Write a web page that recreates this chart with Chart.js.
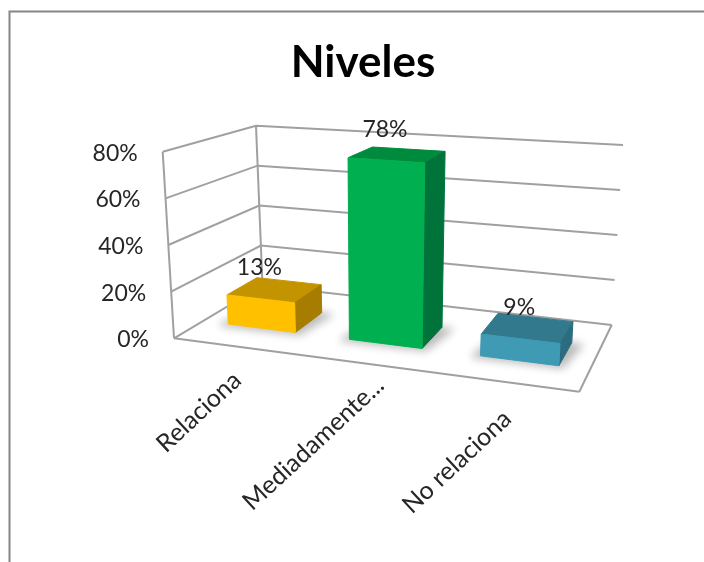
<!DOCTYPE html>
<html lang="es">
<head>
  <meta charset="UTF-8">
  <title>Niveles</title>
  <script src="https://cdn.jsdelivr.net/npm/chart.js"></script>
  <style>
    html, body { margin: 0; padding: 0; background: #fff; }
    canvas { display: block; }
  </style>
</head>
<body>
  <canvas id="nivelesChart" width="704" height="562"></canvas>

  <script>
    const categories = ['Relaciona', 'Mediadamente...', 'No relaciona'];
    const percentages = [13, 78, 9];
    const yTicks = [0, 20, 40, 60, 80];
    const frontColors = ['#FFC000', '#00B050', '#3F9AB3'];
    const topColors = ['#C49400', '#008A3E', '#32798D'];
    const sideColors = ['#A67D00', '#00733A', '#2C6C80'];

    // corners of the 3D box on screen: [u, v, depth], u and v run 0..1 inside the plot
    const corners = {
      '000': [174, 338.3], '100': [579.3, 391.7], '010': [162.7, 151.7], '110': [592, 181.6],
      '001': [262.5, 285.5], '101': [611.7, 325], '011': [256, 125.7], '111': [623, 145]
    };
    const barFront = 0.33;
    const barBack = 0.68;
    // the truncated middle label sits closer to the floor edge than the others
    const xLabelShift = [[-8, 19], [5, 7], [-8, 22]];

    function mix(a, b, t) { return a + (b - a) * t; }

    function project(u, v, d) {
      // the axis is foreshortened a bit towards the left
      const s = u * (1 + 0.116 * (u - 1));
      const p = [0, 1].map(i => {
        const c = k => corners[k][i];
        const front = mix(mix(c('000'), c('100'), s), mix(c('010'), c('110'), s), v);
        const back = mix(mix(c('001'), c('101'), s), mix(c('011'), c('111'), s), v);
        return mix(front, back, d);
      });
      return { x: p[0], y: p[1] };
    }

    function valueDecimal(ys, value) {
      return (ys.bottom - ys.getPixelForValue(value)) / ys.height;
    }

    function tracePath(ctx, pts) {
      ctx.beginPath();
      pts.forEach((p, i) => i ? ctx.lineTo(p.x, p.y) : ctx.moveTo(p.x, p.y));
      ctx.closePath();
    }

    function quad(ctx, pts, fill) {
      tracePath(ctx, pts);
      ctx.fillStyle = fill;
      ctx.fill();
      ctx.strokeStyle = fill;
      ctx.lineWidth = 1;
      ctx.lineJoin = 'round';
      ctx.stroke();
    }

    function line(ctx, a, b) {
      ctx.beginPath();
      ctx.moveTo(a.x, a.y);
      ctx.lineTo(b.x, b.y);
      ctx.stroke();
    }

    const box3d = {
      id: 'box3d',
      afterUpdate(chart) {
        const { x: xs, y: ys } = chart.scales;
        if (ys._patched) return;
        ys._patched = true;
        // tick labels follow the slanted edges of the box
        ys._computeLabelArea = () => undefined;
        const oy = ys._computeLabelItems;
        ys._computeLabelItems = function (area) {
          const items = oy.call(this, area);
          items.forEach((it, i) => {
            const p = project(0, valueDecimal(this, this.ticks[i].value), 0);
            it.options.translation = [p.x - 25, p.y + 1.5];
          });
          return items;
        };
        xs._computeLabelArea = () => undefined;
        const ox = xs._computeLabelItems;
        xs._computeLabelItems = function (area) {
          const items = ox.call(this, area);
          items.forEach((it, i) => {
            const p = project((this.getPixelForTick(i) - this.left) / this.width, 0, 0);
            it.options.translation = [p.x + xLabelShift[i][0], p.y + xLabelShift[i][1]];
          });
          return items;
        };
      },
      beforeDraw(chart) {
        const ctx = chart.ctx;
        ctx.save();
        ctx.strokeStyle = '#868686';
        ctx.lineWidth = 2;
        ctx.strokeRect(9.5, 11.5, 800, 700);
        ctx.restore();
      },
      beforeDatasetsDraw(chart) {
        const ctx = chart.ctx;
        const ys = chart.scales.y;
        ctx.save();
        ctx.strokeStyle = '#a0a0a0';
        ctx.lineWidth = 2;
        yTicks.forEach(t => {
          const v = valueDecimal(ys, t);
          ctx.beginPath();
          [project(0, v, 0), project(0, v, 1), project(1, v, 1)].forEach((p, i) =>
            i ? ctx.lineTo(p.x, p.y) : ctx.moveTo(p.x, p.y));
          ctx.stroke();
        });
        line(ctx, project(0, 0, 0), project(0, 1, 0));
        line(ctx, project(0, 0, 1), project(0, 1, 1));
        line(ctx, project(0, 0, 0), project(1, 0, 0));
        line(ctx, project(1, 0, 0), project(1, 0, 1));
        ctx.restore();
      },
      beforeDatasetDraw(chart, args) {
        const ctx = chart.ctx;
        const meta = args.meta;
        const { x: xs, y: ys } = chart.scales;
        meta.data.forEach((bar, i) => {
          const half = bar.width / 2;
          const u0 = (bar.x - half - xs.left) / xs.width;
          const u1 = (bar.x + half - xs.left) / xs.width;
          const v = (ys.bottom - bar.y) / ys.height;
          const f0 = project(u0, 0, barFront), f1 = project(u1, 0, barFront);
          const t0 = project(u0, v, barFront), t1 = project(u1, v, barFront);
          const b0 = project(u0, 0, barBack), b1 = project(u1, 0, barBack);
          const s0 = project(u0, v, barBack), s1 = project(u1, v, barBack);

          // soft shadow on the floor
          ctx.save();
          ctx.filter = 'blur(4px)';
          quad(ctx, [
            { x: f0.x - 9, y: f0.y + 1 }, { x: f1.x + 4, y: f1.y + 2 },
            { x: b1.x + 11, y: b1.y + 2 }, { x: b0.x, y: b0.y }
          ], 'rgba(90,90,90,0.42)');
          ctx.restore();

          quad(ctx, [t0, t1, s1, s0], topColors[i]);
          quad(ctx, [t1, f1, b1, s1], sideColors[i]);

          // front face is the library's own bar, mapped onto the front plane
          ctx.save();
          quad(ctx, [t0, t1, f1, f0], frontColors[i]);
          tracePath(ctx, [t0, t1, f1, f0]);
          ctx.clip();
          const w = bar.width, h = bar.base - bar.y;
          const a = (f1.x - f0.x) / w, b = (f1.y - f0.y) / w;
          const c = (f0.x - t0.x) / h, d = (f0.y - t0.y) / h;
          ctx.transform(a, b, c, d,
            t0.x - a * (bar.x - half) - c * bar.y,
            t0.y - b * (bar.x - half) - d * bar.y);
          bar.draw(ctx);
          ctx.restore();
        });
        return false;
      },
      afterDatasetsDraw(chart) {
        const ctx = chart.ctx;
        const { x: xs, y: ys } = chart.scales;
        const meta = chart.getDatasetMeta(0);
        ctx.save();
        ctx.font = '23px Lato';
        ctx.fillStyle = '#262626';
        ctx.textAlign = 'center';
        ctx.textBaseline = 'middle';
        meta.data.forEach((bar, i) => {
          const p = project((bar.x - xs.left) / xs.width, (ys.bottom - bar.y) / ys.height, barFront);
          ctx.fillText(percentages[i] + '%', p.x - 1, p.y - 31);
        });
        ctx.restore();
      }
    };

    new Chart(document.getElementById('nivelesChart'), {
      type: 'bar',
      data: {
        labels: categories,
        datasets: [{
          data: percentages,
          backgroundColor: frontColors,
          borderWidth: 0,
          barPercentage: 0.564,
          categoryPercentage: 1
        }]
      },
      options: {
        responsive: false,
        animation: false,
        layout: { autoPadding: false, padding: { left: 147, right: 125, top: 0, bottom: 0 } },
        plugins: {
          legend: { display: false },
          tooltip: { enabled: false },
          title: {
            display: true,
            text: 'Niveles',
            color: '#000',
            font: { family: 'Lato', size: 44, weight: 'bold' },
            padding: { top: 36, bottom: 63 }
          }
        },
        scales: {
          x: {
            grid: { display: false },
            border: { display: false },
            afterFit: s => { s.height = 224; },
            ticks: {
              autoSkip: false,
              minRotation: 43,
              maxRotation: 43,
              color: '#262626',
              font: { family: 'Lato', size: 25 }
            }
          },
          y: {
            min: 0,
            max: 80,
            grid: { display: false },
            border: { display: false },
            afterFit: s => { s.width = 27; },
            afterBuildTicks: s => { s.ticks = yTicks.map(value => ({ value })); },
            ticks: {
              color: '#262626',
              font: { family: 'Lato', size: 23 },
              callback: value => value + '%'
            }
          }
        }
      },
      plugins: [box3d]
    });
  </script>
</body>
</html>
